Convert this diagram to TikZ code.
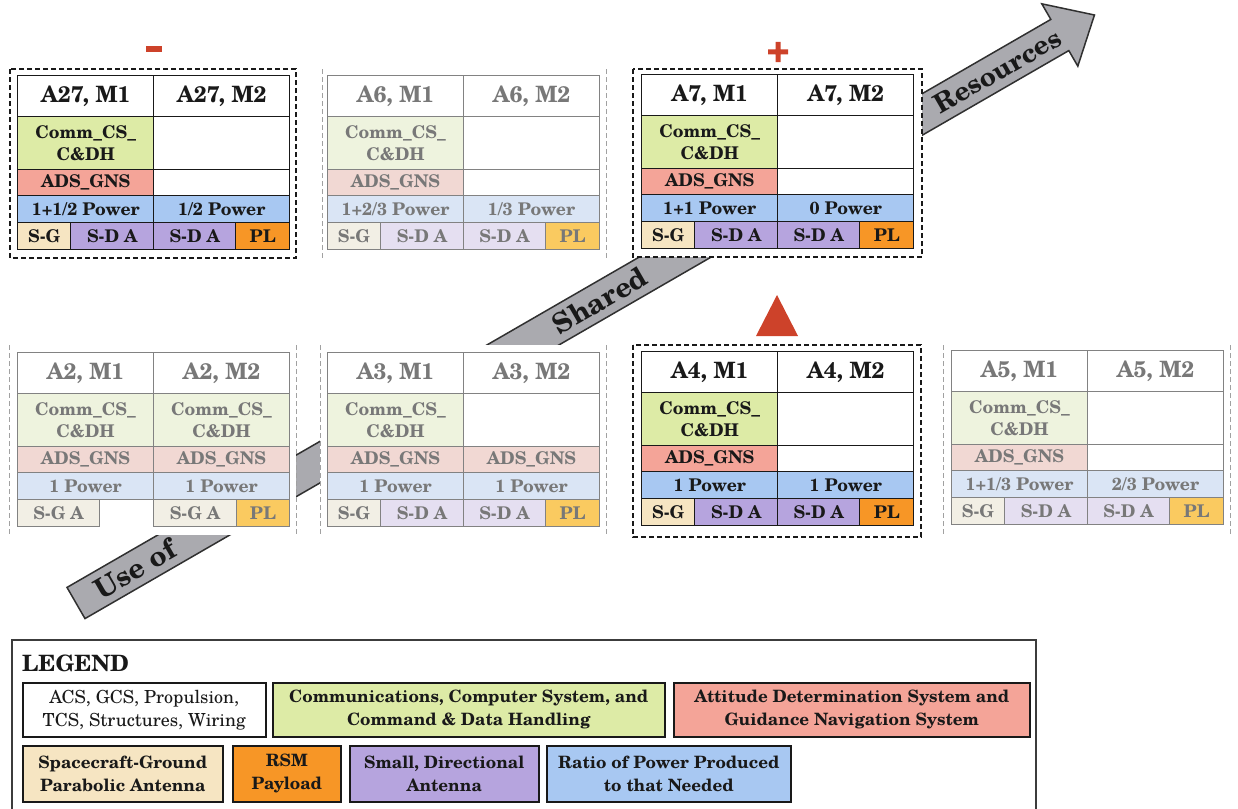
\documentclass[tikz,border=0pt]{standalone}
\usepackage{fontspec}
\setmainfont{texgyreschola}[Extension=.otf, UprightFont=*-regular, BoldFont=*-bold, ItalicFont=*-italic, BoldItalicFont=*-bolditalic]

% full-strength cell colours
\definecolor{grn}{RGB}{221,235,166}
\definecolor{ads}{RGB}{244,164,152}
\definecolor{blu}{RGB}{168,200,242}
\definecolor{sgc}{RGB}{246,229,194}
\definecolor{pur}{RGB}{182,164,222}
\definecolor{org}{RGB}{247,150,38}
% washed-out cell colours
\definecolor{fgrn}{RGB}{238,243,222}
\definecolor{fads}{RGB}{241,216,211}
\definecolor{fblu}{RGB}{218,229,245}
\definecolor{fsgc}{RGB}{242,239,229}
\definecolor{fpur}{RGB}{229,223,241}
\definecolor{forg}{RGB}{250,202,96}
\definecolor{ftxt}{RGB}{120,120,120}
\definecolor{fline}{RGB}{130,130,130}
\definecolor{arrgray}{RGB}{170,170,175}
\definecolor{markred}{RGB}{205,66,42}
\definecolor{ink}{RGB}{25,25,25}

% switch between a full-strength and a washed-out table
\newcommand\activemode{%
  \tikzset{mode/.style={draw=ink,line width=1.4pt,text=ink}}%
  \colorlet{cG}{grn}\colorlet{cR}{ads}\colorlet{cB}{blu}%
  \colorlet{cS}{sgc}\colorlet{cP}{pur}\colorlet{cO}{org}}
\newcommand\fadedmode{%
  \tikzset{mode/.style={draw=fline,line width=0.9pt,text=ftxt}}%
  \colorlet{cG}{fgrn}\colorlet{cR}{fads}\colorlet{cB}{fblu}%
  \colorlet{cS}{fsgc}\colorlet{cP}{fpur}\colorlet{cO}{forg}}

% table pieces, placed relative to the table corner (\tX,\tY)
\newcommand\hdrs[2]{%
  \node[cell,hd,minimum width=136pt,minimum height=41pt] (#1h1) at (\tX,\tY) {#2, M1};
  \node[cell,hd,minimum width=136pt,minimum height=41pt] (#1h2) at (\tX+136,\tY) {#2, M2};}
\newcommand\commc[2]{%
  \node[cell,fill=cG,minimum width=136pt,minimum height=53pt] (#1) at (\tX+#2,\tY+41) {Comm\_CS\_\\C\&DH};}
\newcommand\emptyc[4]{%
  \node[cell,fill=white,minimum width=136pt,minimum height=#4pt] (#1) at (\tX+#2,\tY+#3) {};}
\newcommand\adsc[2]{%
  \node[cell,fill=cR,minimum width=136pt,minimum height=26pt] (#1) at (\tX+#2,\tY+94) {ADS\_GNS};}
\newcommand\pwrc[3]{%
  \node[cell,fill=cB,minimum width=136pt,minimum height=27pt] (#1) at (\tX+#2,\tY+120) {#3};}
\newcommand\botc[5]{%
  \node[cell,fill=#4,minimum width=#3pt,minimum height=27pt] (#1) at (\tX+#2,\tY+147) {#5};}
\newcommand\stdbot[1]{%
  \botc{#1s1}{0}{53}{cS}{S-G}\botc{#1s2}{53}{83}{cP}{S-D A}%
  \botc{#1s3}{136}{82}{cP}{S-D A}\botc{#1s4}{218}{54}{cO}{PL}}

\begin{document}
\begin{tikzpicture}[x=1pt,y=-1pt,
  mode/.style={},
  cell/.style={rectangle,anchor=north west,inner sep=0pt,align=center,mode,
    font=\bfseries\fontsize{17.5}{22}\selectfont},
  hd/.style={fill=white,font=\bfseries\fontsize{22.5}{24}\selectfont},
  frame/.style={draw=ink,line width=1.4pt,dash pattern=on 5pt off 3pt,fill=white},
  fframe/.style={draw=fline!75,line width=1pt,dash pattern=on 5pt off 3pt},
  bigarrow/.style={fill=arrgray,draw=ink!90,line width=1.5pt,line join=miter},
  arrtext/.style={text=ink,font=\bfseries\fontsize{28}{28}\selectfont,rotate=30,inner sep=0pt},
  legbox/.style={rectangle,anchor=north west,inner sep=0pt,align=center,draw=ink,line width=1.5pt,
    text=ink,font=\bfseries\fontsize{17}{23}\selectfont},
]
\useasboundingbox (0,0) rectangle (1238,808);

% ---- the block arrow running behind the tables
\begin{scope}[shift={(76,603)},rotate=30]
  \draw[bigarrow] (0,-18) -- (1136,-18) -- (1136,-36) -- (1176,0)
    -- (1136,36) -- (1136,18) -- (0,18) -- cycle;
  \node[arrtext] (useof) at (68,0) {Use of};
  \node[arrtext] (shared) at (605,0) {Shared};
  \node[arrtext,font=\bfseries\fontsize{26.5}{27}\selectfont] (resources) at (1064,0) {Resources};
\end{scope}

% ---- frames (white grounds hide the arrow)
\draw[frame] (10,69) rectangle (296,258);
\draw[frame] (633,69) rectangle (922,257);
\draw[frame] (633,345) rectangle (921,537);
\fill[white] (322,69) rectangle (606,258);
\fill[white] (9,345) rectangle (296,535);
\fill[white] (320,345) rectangle (606,535);
\fill[white] (943,345) rectangle (1230,535);
\draw[fframe] (322,69) -- (322,258) (606,69) -- (606,258);
\draw[fframe] (9,345) -- (9,535) (296,345) -- (296,535);
\draw[fframe] (320,345) -- (320,535) (606,345) -- (606,535);
\draw[fframe] (943,345) -- (943,535) (1230,345) -- (1230,535);

% ---- markers
\fill[markred] (146,46) rectangle (162,52);
\fill[markred] (768,49.5) rectangle (788,54.5) (775.5,42) rectangle (780.5,62);
\fill[markred] (777,295) -- (798,336) -- (756,336) -- cycle;

% ---- A27
\activemode\def\tX{17}\def\tY{75}
\hdrs{a27}{A27}
\commc{a27c1}{0}\emptyc{a27c2}{136}{41}{53}
\adsc{a27d1}{0}\emptyc{a27d2}{136}{94}{26}
\pwrc{a27p1}{0}{1+1/2 Power}\pwrc{a27p2}{136}{1/2 Power}
\stdbot{a27}

% ---- A6
\fadedmode\def\tX{327}\def\tY{75}
\hdrs{a6}{A6}
\commc{a6c1}{0}\emptyc{a6c2}{136}{41}{53}
\adsc{a6d1}{0}\emptyc{a6d2}{136}{94}{26}
\pwrc{a6p1}{0}{1+2/3 Power}\pwrc{a6p2}{136}{1/3 Power}
\stdbot{a6}

% ---- A7
\activemode\def\tX{641}\def\tY{74}
\hdrs{a7}{A7}
\commc{a7c1}{0}\emptyc{a7c2}{136}{41}{53}
\adsc{a7d1}{0}\emptyc{a7d2}{136}{94}{26}
\pwrc{a7p1}{0}{1+1 Power}\pwrc{a7p2}{136}{0 Power}
\stdbot{a7}

% ---- A2
\fadedmode\def\tX{17}\def\tY{352}
\hdrs{a2}{A2}
\commc{a2c1}{0}\commc{a2c2}{136}
\adsc{a2d1}{0}\adsc{a2d2}{136}
\pwrc{a2p1}{0}{1 Power}\pwrc{a2p2}{136}{1 Power}
\botc{a2s1}{0}{82}{cS}{S-G A}
\botc{a2s3}{136}{83}{cS}{S-G A}\botc{a2s4}{219}{53}{cO}{PL}

% ---- A3
\fadedmode\def\tX{327}\def\tY{352}
\hdrs{a3}{A3}
\commc{a3c1}{0}\emptyc{a3c2}{136}{41}{53}
\adsc{a3d1}{0}\adsc{a3d2}{136}
\pwrc{a3p1}{0}{1 Power}\pwrc{a3p2}{136}{1 Power}
\stdbot{a3}

% ---- A4
\activemode\def\tX{641}\def\tY{351}
\hdrs{a4}{A4}
\commc{a4c1}{0}\emptyc{a4c2}{136}{41}{53}
\adsc{a4d1}{0}\emptyc{a4d2}{136}{94}{26}
\pwrc{a4p1}{0}{1 Power}\pwrc{a4p2}{136}{1 Power}
\stdbot{a4}

% ---- A5
\fadedmode\def\tX{951}\def\tY{350}
\hdrs{a5}{A5}
\commc{a5c1}{0}\emptyc{a5c2}{136}{41}{53}
\adsc{a5d1}{0}\emptyc{a5d2}{136}{94}{26}
\pwrc{a5p1}{0}{1+1/3 Power}\pwrc{a5p2}{136}{2/3 Power}
\stdbot{a5}

% ---- legend
\draw[draw=ink!85,line width=1.2pt,fill=white] (12,640) rectangle (1036,830);
\node[anchor=west,inner sep=0pt,text=ink,font=\bfseries\fontsize{22.5}{24}\selectfont] (legtitle) at (22,663) {LEGEND};
\node[legbox,fill=white,font=\fontsize{18}{23}\selectfont,minimum width=243pt,minimum height=54pt] (lgw) at (22,682) {ACS, GCS, Propulsion,\\TCS, Structures, Wiring};
\node[legbox,fill=grn,minimum width=392pt,minimum height=54pt] (lgg) at (272,682) {Communications, Computer System, and\\Command \& Data Handling};
\node[legbox,fill=ads,minimum width=356pt,minimum height=54pt] (lgr) at (673,682) {Attitude Determination System and\\Guidance Navigation System};
\node[legbox,fill=sgc,minimum width=200pt,minimum height=56pt] (lgs) at (22,745) {Spacecraft-Ground\\Parabolic Antenna};
\node[legbox,fill=org,minimum width=108pt,minimum height=56pt] (lgo) at (232,745) {RSM\\Payload};
\node[legbox,fill=pur,minimum width=189pt,minimum height=56pt] (lgp) at (349,745) {Small, Directional\\Antenna};
\node[legbox,fill=blu,minimum width=244pt,minimum height=56pt] (lgb) at (546,745) {Ratio of Power Produced\\to that Needed};
\end{tikzpicture}
\end{document}
